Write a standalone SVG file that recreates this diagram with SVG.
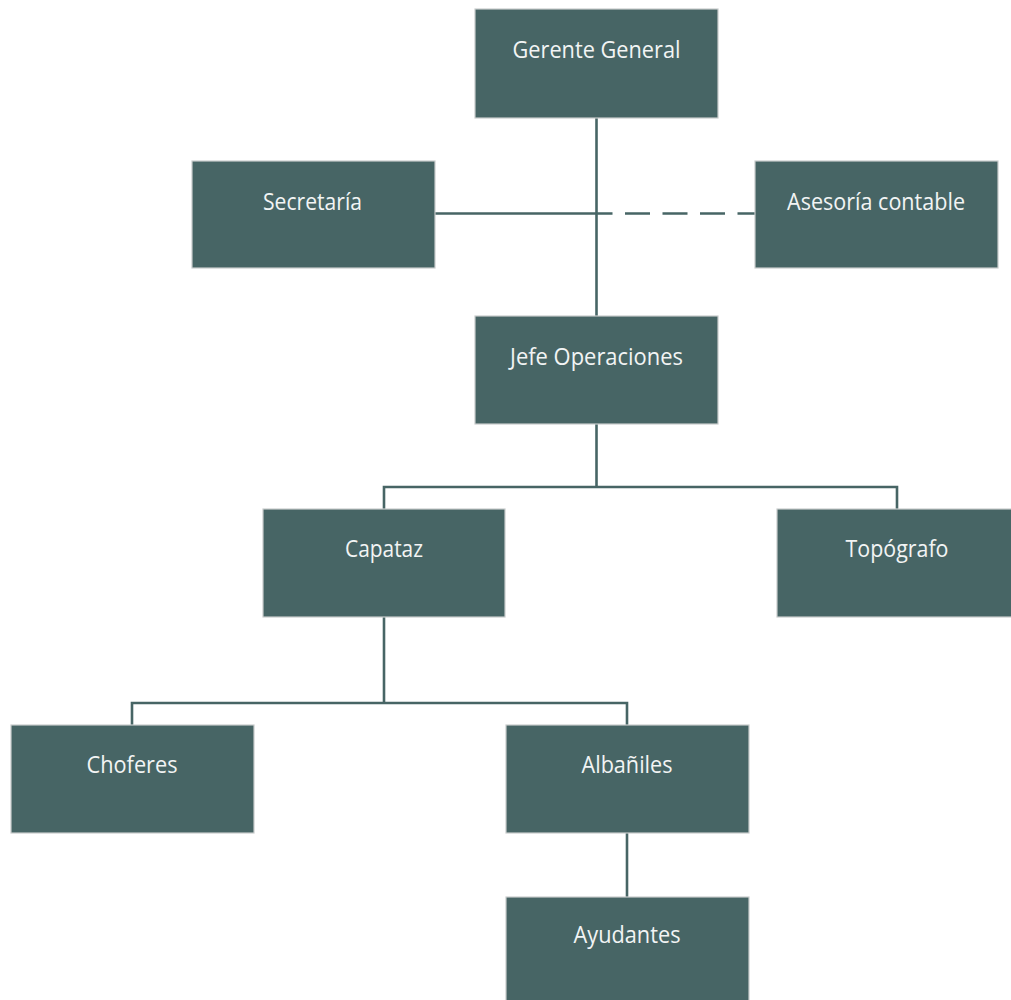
<svg xmlns="http://www.w3.org/2000/svg" width="1011" height="1000" viewBox="0 0 1011 1000">
<style>
.box{fill:#476565;stroke:#c9cccc;stroke-width:1.2}
.lbl{font-family:"Open Sans","Noto Sans",sans-serif;font-size:23px;fill:#f2f4f4;text-anchor:middle}
.ln{fill:none;stroke:#476565;stroke-width:2.6}
.dash{stroke-dasharray:25 12.5;stroke-dashoffset:9}
</style>
<rect width="1011" height="1000" fill="#ffffff"/>
<g id="connectors">
<path class="ln" d="M596.5 118 V316"/>
<path class="ln" d="M435 213.5 H596.5"/>
<path class="ln dash" d="M596.5 213.5 H755"/>
<path class="ln" d="M596.5 424 V487"/>
<path class="ln" d="M384 509 V487 H897 V509"/>
<path class="ln" d="M384 617 V703"/>
<path class="ln" d="M132 725 V703 H627 V725"/>
<path class="ln" d="M627 833 V897"/>
</g>
<g id="gerente"><rect class="box" x="475" y="9" width="243" height="109"/><text class="lbl" x="596.5" y="58" textLength="168" lengthAdjust="spacingAndGlyphs">Gerente General</text></g>
<g id="secretaria"><rect class="box" x="192" y="161" width="243" height="107"/><text class="lbl" x="312.5" y="210" textLength="99" lengthAdjust="spacingAndGlyphs">Secretaría</text></g>
<g id="asesoria"><rect class="box" x="755" y="161" width="243" height="107"/><text class="lbl" x="876" y="210" textLength="178" lengthAdjust="spacingAndGlyphs">Asesoría contable</text></g>
<g id="jefe"><rect class="box" x="475" y="316" width="243" height="108"/><text class="lbl" x="596.5" y="365" textLength="173" lengthAdjust="spacingAndGlyphs">Jefe Operaciones</text></g>
<g id="capataz"><rect class="box" x="263" y="509" width="242" height="108"/><text class="lbl" x="384" y="557" textLength="78" lengthAdjust="spacingAndGlyphs">Capataz</text></g>
<g id="topografo"><rect class="box" x="777" y="509" width="243" height="108"/><text class="lbl" x="897" y="557" textLength="103" lengthAdjust="spacingAndGlyphs">Topógrafo</text></g>
<g id="choferes"><rect class="box" x="11" y="725" width="243" height="108"/><text class="lbl" x="132" y="773" textLength="91" lengthAdjust="spacingAndGlyphs">Choferes</text></g>
<g id="albaniles"><rect class="box" x="506" y="725" width="243" height="108"/><text class="lbl" x="627" y="773" textLength="91" lengthAdjust="spacingAndGlyphs">Albañiles</text></g>
<g id="ayudantes"><rect class="box" x="506" y="897" width="243" height="110"/><text class="lbl" x="627" y="943" textLength="107" lengthAdjust="spacingAndGlyphs">Ayudantes</text></g>
</svg>
